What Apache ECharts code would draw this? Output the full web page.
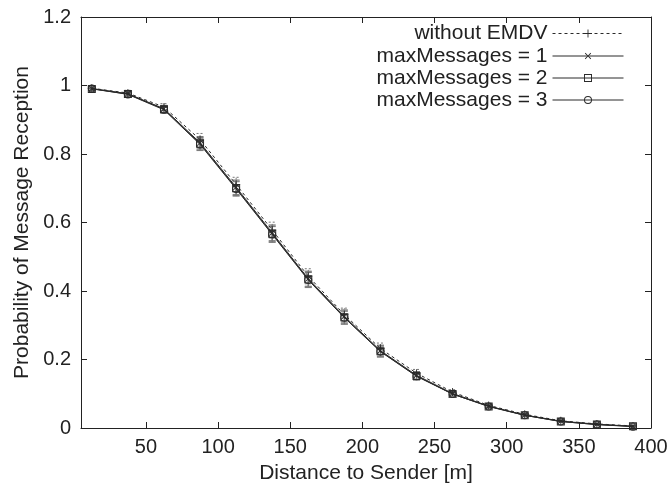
<!DOCTYPE html>
<html>
<head>
<meta charset="utf-8">
<script src="https://cdn.jsdelivr.net/npm/echarts@6/dist/echarts.min.js"></script>
<style>
  html, body { margin: 0; padding: 0; background: #fff; }
  #chart { width: 669px; height: 486px; }
</style>
</head>
<body>
<div id="chart"></div>
<script>
// Sender distances (m) at which reception was measured
const distances = [12.5, 37.5, 62.5, 87.5, 112.5, 137.5, 162.5, 187.5, 212.5, 237.5, 262.5, 287.5, 312.5, 337.5, 362.5, 387.5];

// Mean reception probability per configuration
const withoutEmdv = [0.992, 0.978, 0.937, 0.842, 0.711, 0.578, 0.443, 0.331, 0.232, 0.160, 0.105, 0.066, 0.040, 0.021, 0.012, 0.006];
const maxMsg1     = [0.991, 0.976, 0.932, 0.833, 0.703, 0.570, 0.436, 0.326, 0.226, 0.154, 0.101, 0.064, 0.038, 0.020, 0.011, 0.005];
const maxMsg2     = [0.990, 0.975, 0.931, 0.830, 0.700, 0.567, 0.434, 0.323, 0.224, 0.152, 0.099, 0.063, 0.037, 0.019, 0.010, 0.005];
const maxMsg3     = [0.991, 0.974, 0.929, 0.828, 0.698, 0.565, 0.432, 0.322, 0.223, 0.151, 0.099, 0.063, 0.037, 0.019, 0.010, 0.004];

// Half-width of the confidence interval at each distance
const errHalf = [0.005, 0.008, 0.010, 0.018, 0.021, 0.023, 0.022, 0.019, 0.016, 0.011, 0.007, 0.005, 0.004, 0.003, 0.002, 0.002];

const seriesNames = ['without EMDV', 'maxMessages = 1', 'maxMessages = 2', 'maxMessages = 3'];
const xTicks = [50, 100, 150, 200, 250, 300, 350, 400];

const FONT = 'Liberation Sans, Arial, sans-serif';
const LINE = '#2a2a2a';
const ERR = '#777';

// marker shapes (10x10 boxes; hollow ones use an inner counter-wound contour)
const PLUS = 'path://M4.45,0H5.55V4.45H10V5.55H5.55V10H4.45V5.55H0V4.45H4.45Z';
const SQUARE = 'path://M0,0H10V10H0ZM1.2,1.2V8.8H8.8V1.2Z';
const RING = 'path://M5,0A5,5,0,1,1,5,10A5,5,0,1,1,5,0ZM5,1.2A3.8,3.8,0,1,0,5,8.8A3.8,3.8,0,1,0,5,1.2Z';

function pairs(values) {
  return distances.map((d, i) => [d, values[i]]);
}
function bars(values) {
  return distances.map((d, i) => [d, values[i] - errHalf[i], values[i] + errHalf[i]]);
}

function errorBars(dashed) {
  return function (params, api) {
    const x = api.value(0);
    const lo = api.coord([x, api.value(1)]);
    const hi = api.coord([x, api.value(2)]);
    const w = 3.5;
    const style = { stroke: ERR, lineWidth: 1, lineDash: dashed ? [2, 2] : null };
    return {
      type: 'group',
      children: [
        { type: 'line', shape: { x1: lo[0], y1: lo[1], x2: hi[0], y2: hi[1] }, style },
        { type: 'line', shape: { x1: lo[0] - w, y1: lo[1], x2: lo[0] + w, y2: lo[1] }, style },
        { type: 'line', shape: { x1: hi[0] - w, y1: hi[1], x2: hi[0] + w, y2: hi[1] }, style }
      ]
    };
  };
}

function lineSeries(name, values, symbol, rotate, dashed) {
  return {
    name,
    type: 'line',
    data: pairs(values),
    symbol,
    symbolSize: 8,
    symbolRotate: rotate,
    showAllSymbol: true,
    smooth: false,
    lineStyle: { color: LINE, width: 1, type: dashed ? [3, 3] : 'solid' },
    itemStyle: { color: LINE, borderWidth: 0 },
    emphasis: { disabled: true },
    z: 3
  };
}

function errSeries(values, dashed) {
  return {
    type: 'custom',
    data: bars(values),
    renderItem: errorBars(dashed),
    encode: { x: 0, y: [1, 2] },
    silent: true,
    z: 2
  };
}

const legendRows = [22.5, 45, 67, 89];
const legends = seriesNames.map((n, i) => ({
  data: [n],
  right: 45,
  top: legendRows[i],
  align: 'right',
  orient: 'vertical',
  padding: 0,
  itemWidth: 71,
  itemHeight: 10,
  selectedMode: false,
  lineStyle: { width: 1 },
  textStyle: { fontFamily: FONT, fontSize: 21, color: '#222', lineHeight: 22 }
}));

const axisLineStyle = { color: '#222', width: 1 };

const chart = echarts.init(document.getElementById('chart'), null, { renderer: 'canvas' });
chart.setOption({
  animation: false,
  backgroundColor: '#fff',
  grid: { left: 81, right: 18, top: 17, bottom: 58, containLabel: false, outerBoundsMode: 'none' },
  legend: legends,
  xAxis: [
    {
      type: 'value',
      min: 5,
      max: 400,
      name: 'Distance to Sender [m]',
      nameLocation: 'middle',
      nameGap: 35,
      nameTextStyle: { fontFamily: FONT, fontSize: 21, color: '#222' },
      axisLine: { show: true, onZero: false, lineStyle: axisLineStyle },
      axisTick: { show: true, inside: true, length: 6, lineStyle: axisLineStyle, customValues: xTicks },
      axisLabel: { fontFamily: FONT, fontSize: 20, color: '#222', margin: 9, customValues: xTicks },
      splitLine: { show: false }
    },
    {
      type: 'value',
      position: 'top',
      min: 5,
      max: 400,
      axisLine: { show: true, onZero: false, lineStyle: axisLineStyle },
      axisTick: { show: true, inside: true, length: 6, lineStyle: axisLineStyle, customValues: xTicks },
      axisLabel: { show: false, customValues: xTicks },
      splitLine: { show: false }
    }
  ],
  yAxis: [
    {
      type: 'value',
      min: 0,
      max: 1.2,
      interval: 0.2,
      name: 'Probability of Message Reception',
      nameLocation: 'middle',
      nameGap: 47,
      nameTextStyle: { fontFamily: FONT, fontSize: 21, color: '#222' },
      axisLine: { show: true, onZero: false, lineStyle: axisLineStyle },
      axisTick: { show: true, inside: true, length: 6, lineStyle: axisLineStyle },
      axisLabel: { fontFamily: FONT, fontSize: 20, color: '#222', margin: 10 },
      splitLine: { show: false }
    },
    {
      type: 'value',
      position: 'right',
      min: 0,
      max: 1.2,
      interval: 0.2,
      axisLine: { show: true, onZero: false, lineStyle: axisLineStyle },
      axisTick: { show: true, inside: true, length: 6, lineStyle: axisLineStyle },
      axisLabel: { show: false },
      splitLine: { show: false }
    }
  ],
  series: [
    errSeries(withoutEmdv, true),
    errSeries(maxMsg1, false),
    errSeries(maxMsg2, false),
    errSeries(maxMsg3, false),
    lineSeries(seriesNames[0], withoutEmdv, PLUS, 0, true),
    lineSeries(seriesNames[1], maxMsg1, PLUS, 45, false),
    lineSeries(seriesNames[2], maxMsg2, SQUARE, 0, false),
    lineSeries(seriesNames[3], maxMsg3, RING, 0, false)
  ]
});
</script>
</body>
</html>
